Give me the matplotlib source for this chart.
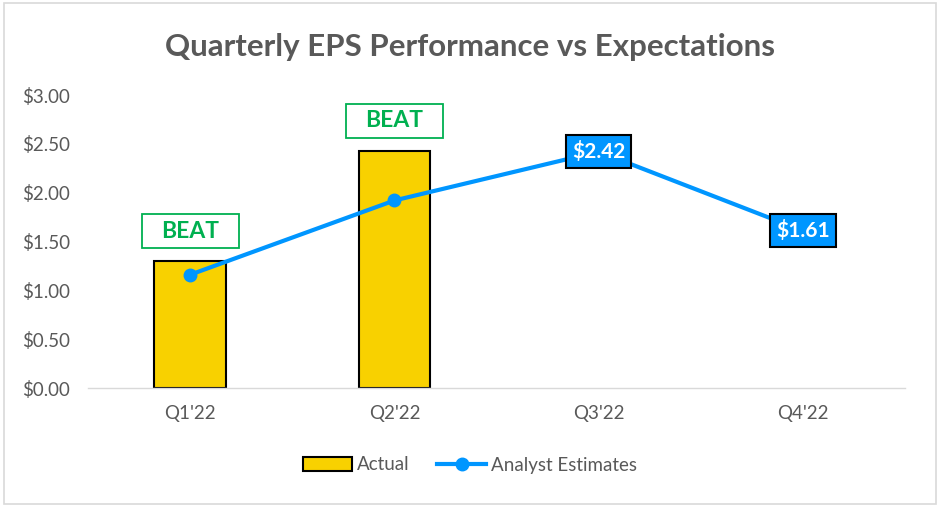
import matplotlib
matplotlib.use("Agg")
import matplotlib.pyplot as plt
from matplotlib.patches import Rectangle
from matplotlib.transforms import ScaledTranslation

quarters = ["Q1'22", "Q2'22", "Q3'22", "Q4'22"]
actual = [1.30, 2.43]
estimates = [1.16, 1.92, 2.42, 1.61]
yticks = [0.0, 0.5, 1.0, 1.5, 2.0, 2.5, 3.0]
beat_labels = ["BEAT", "BEAT"]

plt.rcParams['font.family'] = ['Lato', 'DejaVu Sans']
gray = '#595959'
blue = '#0096FF'
gold = '#F8D100'
green = '#00B050'

fig = plt.figure(figsize=(9.4, 5.07), dpi=100)
ax = fig.add_axes([88/940, 1-388/507, (905-88)/940, (388-95)/507])

x = list(range(len(quarters)))
bars = ax.bar(x[:len(actual)], actual, width=0.35, color=gold, edgecolor='black',
              linewidth=1.5, label='Actual', zorder=2)
line, = ax.plot(x, estimates, color=blue, lw=3, marker='o', markersize=9,
                label='Analyst Estimates', zorder=3)

# BEAT labels above bars (box drawn in inches relative to bar top)
bw, bh, off = 0.97, 0.34, 0.30
for i, v in enumerate(actual):
    tr = fig.dpi_scale_trans + ScaledTranslation(i, v, ax.transData)
    ax.add_patch(Rectangle((-bw/2, off - bh/2), bw, bh, transform=tr, fc='white',
                           ec=green, lw=1.3, zorder=5, clip_on=False))
    ax.text(0, off, beat_labels[i], transform=tr, ha='center', va='center',
            fontsize=16.5, fontweight='bold', color=green, zorder=6)

# Estimate value labels for future quarters
for i in range(len(actual), len(quarters)):
    ax.annotate(f"${estimates[i]:.2f}", (i, estimates[i]), ha='center', va='center',
                fontsize=15, fontweight='bold', color='white',
                bbox=dict(boxstyle='square,pad=0.28', fc=blue, ec='black', lw=1.5),
                zorder=5)

ax.set_xlim(-0.5, 3.5)
ax.set_ylim(0, 3.0)
ax.set_yticks(yticks)
ax.set_yticklabels([f"${t:.2f}" for t in yticks])
ax.set_xticks(x)
ax.set_xticklabels(quarters)
ax.tick_params(axis='both', length=0, labelsize=13.5, colors=gray)
ax.tick_params(axis='y', pad=13)
ax.tick_params(axis='x', pad=12)
for s in ['top', 'right', 'left']:
    ax.spines[s].set_visible(False)
ax.spines['bottom'].set_color('#D9D9D9')
ax.spines['bottom'].set_linewidth(1)

fig.text(0.5, 1-47/507, "Quarterly EPS Performance vs Expectations", ha='center', va='center',
         fontsize=22.5, fontweight='bold', color=gray)

leg = fig.legend([bars, line], ['Actual', 'Analyst Estimates'], loc='center',
                 bbox_to_anchor=(0.5, 1-465/507), ncol=2, frameon=False,
                 fontsize=13.5, labelcolor=gray, handlelength=2.6, columnspacing=1.5,
                 handletextpad=0.25)

fig.patches.append(Rectangle((0.004, 0.005), 0.992, 0.99, transform=fig.transFigure,
                             fill=False, ec='#D9D9D9', lw=1.2))
fig.savefig('out.png', dpi=100)
